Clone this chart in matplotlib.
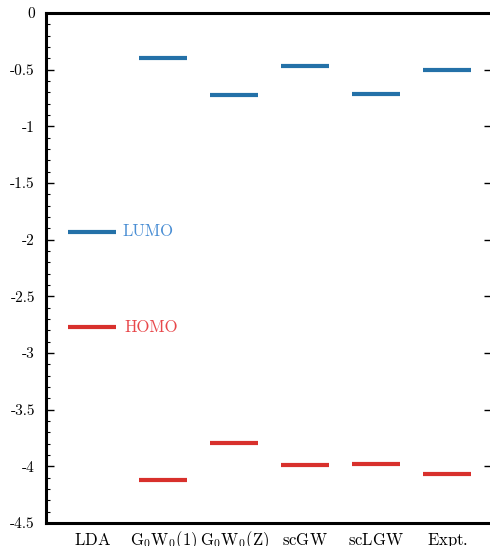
import numpy as np
import matplotlib
matplotlib.use("Agg")
import matplotlib.pyplot as plt
from matplotlib.ticker import MultipleLocator, FormatStrFormatter

plt.rcParams["font.family"] = "cmr10"
plt.rcParams["mathtext.fontset"] = "cm"
plt.rcParams["axes.unicode_minus"] = False
plt.rcParams["axes.formatter.use_mathtext"] = False

methods = [r"$\mathrm{LDA}$", r"$\mathrm{G_0W_0(1)}$", r"$\mathrm{G_0W_0(Z)}$",
           r"$\mathrm{scGW}$", r"$\mathrm{scLGW}$", r"$\mathrm{Expt.}$"]
lumo = [-1.93, -0.40, -0.72, -0.47, -0.715, -0.50]
homo = [-2.77, -4.12, -3.795, -3.985, -3.978, -4.07]

BLUE = "#2471a8"
RED = "#d8302c"

fig = plt.figure(figsize=(4.9, 5.46), dpi=100)
ax = fig.add_axes([46 / 490, 1 - 523 / 546, 446 / 490, 510 / 546])

x = np.arange(len(methods))
half = 0.34
ax.hlines(lumo, x - half, x + half, colors=BLUE, linewidth=3)
ax.hlines(homo, x - half, x + half, colors=RED, linewidth=3)

ax.text(x[0] + 0.42, lumo[0], "LUMO", color="#4a8ed4", fontsize=12,
        va="center", ha="left")
ax.text(x[0] + 0.45, homo[0], "HOMO", color="#e8474a", fontsize=12,
        va="center", ha="left")

ax.set_xlim(-0.65, 5.63)
ax.set_ylim(-4.5, 0)
ax.set_xticks(x)
ax.set_xticklabels(methods, fontsize=12, va="baseline")
ax.tick_params(axis="x", length=0, pad=16)

ax.yaxis.set_major_locator(MultipleLocator(0.5))
ax.yaxis.set_minor_locator(MultipleLocator(0.1))
ax.yaxis.set_major_formatter(FormatStrFormatter("%g"))
ax.tick_params(axis="y", which="major", direction="in", length=6, width=1,
               labelsize=11, right=True, pad=8)
ax.tick_params(axis="y", which="minor", direction="in", length=3, width=0.8,
               right=False)

for side in ["left", "top", "bottom"]:
    ax.spines[side].set_linewidth(2.2)
ax.spines["right"].set_visible(False)

fig.savefig("out.png", dpi=100)
